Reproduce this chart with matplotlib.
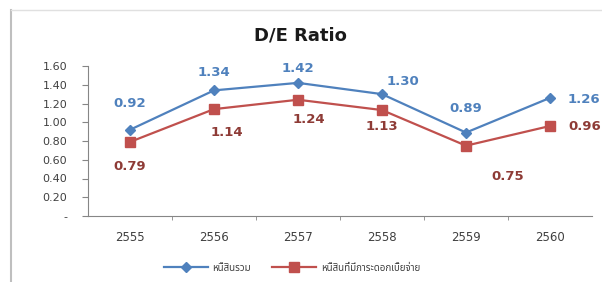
import matplotlib.pyplot as plt
from matplotlib.lines import Line2D

years = ['2555', '2556', '2557', '2558', '2559', '2560']
total_debt = [0.92, 1.34, 1.42, 1.30, 0.89, 1.26]
interest_debt = [0.79, 1.14, 1.24, 1.13, 0.75, 0.96]
series_names = ['หนี้สินรวม', 'หนี้สินที่มีภาระดอกเบี้ยจ่าย']
yticks = [0, 0.2, 0.4, 0.6, 0.8, 1.0, 1.2, 1.4, 1.6]

thai_fonts = ['Noto Sans Thai', 'Tlwg Typist', 'Loma', 'Garuda', 'Noto Sans', 'DejaVu Sans']

blue = '#4F81BD'
red = '#C0504D'

fig = plt.figure(figsize=(6.02, 2.82), dpi=100)
ax = fig.add_axes([88 / 602, 1 - 216 / 282, (592 - 88) / 602, 150 / 282])

x = list(range(len(years)))
ax.plot(x, total_debt, color=blue, lw=1.6, marker='D', ms=5, label=series_names[0])
ax.plot(x, interest_debt, color=red, lw=1.6, marker='s', ms=7, label=series_names[1])

# data labels (offsets in points)
blue_off = [(0, 19), (0, 13), (0, 10), (15, 9), (0, 17), (13, -1)]
red_off = [(0, -18), (9, -17), (8, -14), (0, -12), (30, -22), (13, 0)]
for i, v in enumerate(total_debt):
    ha = 'left' if i == len(years) - 1 else 'center'
    ax.annotate(f'{v:.2f}', (i, v), xytext=blue_off[i], textcoords='offset points',
                ha=ha, va='center', color=blue, fontsize=9.5, fontweight='bold',
                annotation_clip=False)
for i, v in enumerate(interest_debt):
    ha = 'left' if i == len(years) - 1 else 'center'
    ax.annotate(f'{v:.2f}', (i, v), xytext=red_off[i], textcoords='offset points',
                ha=ha, va='center', color='#8E3B36', fontsize=9.5, fontweight='bold',
                annotation_clip=False)

ax.set_xlim(-0.5, len(years) - 0.5)
ax.set_ylim(0, 1.6)
ax.set_yticks(yticks)
ax.set_yticklabels(['-'] + [f'{t:.2f}' for t in yticks[1:]])
ax.set_xticks(x)
ax.set_xticklabels(years)
ax.set_xticks([i + 0.5 for i in x[:-1]], minor=True)
ax.tick_params(axis='x', which='major', length=0, pad=11, labelsize=8.5, labelcolor='#404040')
ax.tick_params(axis='x', which='minor', length=3, color='#868686')
ax.tick_params(axis='y', length=4, color='#868686', labelsize=8, labelcolor='#404040', pad=11)
for s in ['top', 'right']:
    ax.spines[s].set_visible(False)
for s in ['left', 'bottom']:
    ax.spines[s].set_color('#868686')

fig.text(300 / 602, 1 - 35 / 282, 'D/E Ratio', ha='center', va='center',
         fontsize=13, fontweight='bold', color='#1a1a1a')

leg = fig.legend(loc='center', bbox_to_anchor=(292 / 602, 1 - 268 / 282), ncol=2,
                 frameon=False, handlelength=4.5, columnspacing=2.2, handletextpad=0.5,
                 prop={'family': thai_fonts, 'size': 7})
for t in leg.get_texts():
    t.set_color('#404040')

# outer chart frame
fig.add_artist(Line2D([11 / 602, 11 / 602], [0, 1 - 10 / 282], color='#bfbfbf', lw=1.5))
fig.add_artist(Line2D([11 / 602, 1], [1 - 10 / 282, 1 - 10 / 282], color='#e0e0e0', lw=1))

fig.savefig('out.png', dpi=100)
